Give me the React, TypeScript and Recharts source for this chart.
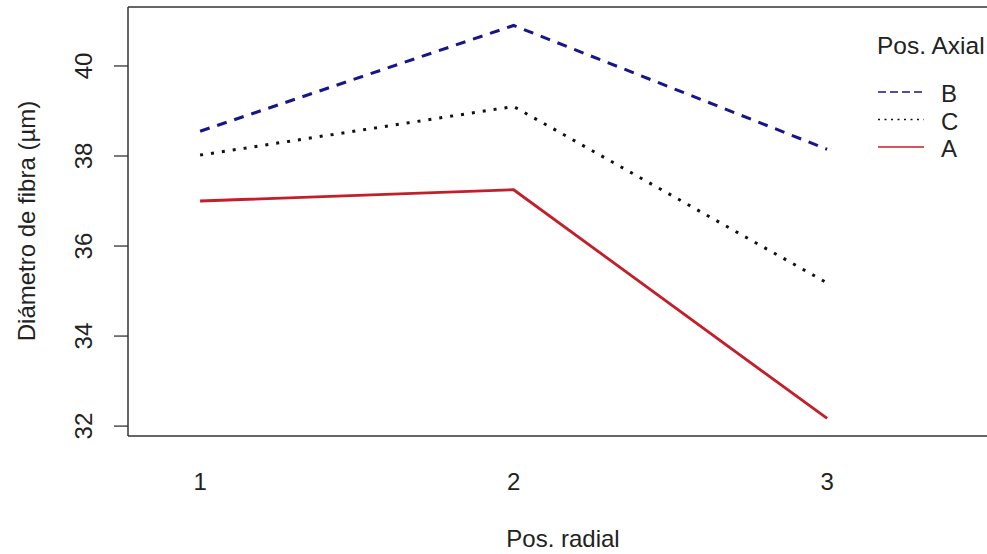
import { LineChart, Line, XAxis, YAxis, ReferenceLine } from "recharts";

// Pos. radial (x) and mean fibre diameter per Pos. axial level
const radialPositions = [1, 2, 3];
const axialB = [38.55, 40.9, 38.15];
const axialC = [38.02, 39.1, 35.18];
const axialA = [37.0, 37.25, 32.17];
const yTicks = [32, 34, 36, 38, 40];
const legendLabels = ["B", "C", "A"];

const X_DOMAIN: [number, number] = [0.77, 3.545];
const Y_DOMAIN: [number, number] = [31.78, 41.31];

const FONT = "'Liberation Sans', Arial, sans-serif";
const INK = "#222";

const SERIES = {
  B: { color: "#16168a", dash: "10 8", width: 3 },
  C: { color: "#111", dash: "3 8", width: 3 },
  A: { color: "#c41e2a", dash: undefined, width: 2.8 },
} as const;

const LEGEND_DASH = { B: "8 4", C: "2 4.5", A: undefined } as const;

const data = radialPositions.map((p, i) => ({
  pos: p,
  B: axialB[i],
  C: axialC[i],
  A: axialA[i],
}));

function XTick({ x, payload }: any) {
  return (
    <text x={x} y={490} textAnchor="middle" fontSize={24} fill={INK} fontFamily={FONT}>
      {payload.value}
    </text>
  );
}

function YTick({ y, payload }: any) {
  return (
    <text
      x={0}
      y={0}
      transform={`translate(92, ${y}) rotate(-90)`}
      textAnchor="middle"
      fontSize={24}
      fill={INK}
      fontFamily={FONT}
    >
      {payload.value}
    </text>
  );
}

function Legend() {
  return (
    <svg
      width={987}
      height={554}
      style={{ position: "absolute", left: 0, top: 0, pointerEvents: "none" }}
    >
      <text x={877} y={54} fontSize={24.5} fill={INK} fontFamily={FONT}>
        Pos. Axial
      </text>
      {legendLabels.map((k, i) => {
        const ly = 92 + i * 27.5;
        const s = SERIES[k as keyof typeof SERIES];
        return (
          <g key={k}>
            <line
              x1={878}
              x2={924}
              y1={ly}
              y2={ly}
              stroke={s.color}
              strokeWidth={1.3}
              strokeDasharray={LEGEND_DASH[k as keyof typeof LEGEND_DASH]}
            />
            <text x={941} y={ly + 10} fontSize={24} fill={INK} fontFamily={FONT}>
              {k}
            </text>
          </g>
        );
      })}
    </svg>
  );
}

export default function App() {
  return (
    <div
      style={{
        position: "absolute",
        left: 0,
        top: 0,
        width: 987,
        height: 554,
        overflow: "hidden",
        background: "#fff",
      }}
    >
      <LineChart
        width={1000}
        height={554}
        data={data}
        margin={{ top: 7, right: 2, left: 0, bottom: 0 }}
      >
        <XAxis
          dataKey="pos"
          type="number"
          domain={X_DOMAIN}
          ticks={radialPositions}
          allowDataOverflow
          height={118}
          tickLine={false}
          axisLine={{ stroke: "#333", strokeWidth: 1.5 }}
          tick={<XTick />}
          label={() => (
            <text x={563} y={547} textAnchor="middle" fontSize={24} fill={INK} fontFamily={FONT}>
              Pos. radial
            </text>
          )}
        />
        <YAxis
          type="number"
          domain={Y_DOMAIN}
          ticks={yTicks}
          allowDataOverflow
          width={128}
          tickSize={14}
          tickLine={{ stroke: "#333", strokeWidth: 1.3 }}
          axisLine={{ stroke: "#333", strokeWidth: 1.5 }}
          tick={<YTick />}
          label={() => (
            <text
              x={0}
              y={0}
              transform="translate(35, 221) rotate(-90)"
              textAnchor="middle"
              fontSize={24}
              fill={INK}
              fontFamily={FONT}
            >
              Diámetro de fibra (µm)
            </text>
          )}
        />
        <ReferenceLine y={Y_DOMAIN[1]} stroke="#333" strokeWidth={1.5} />
        {(["B", "C", "A"] as const).map((k) => (
          <Line
            key={k}
            type="linear"
            dataKey={k}
            stroke={SERIES[k].color}
            strokeWidth={SERIES[k].width}
            strokeDasharray={SERIES[k].dash}
            dot={false}
            activeDot={false}
            isAnimationActive={false}
          />
        ))}
      </LineChart>
      <Legend />
    </div>
  );
}
